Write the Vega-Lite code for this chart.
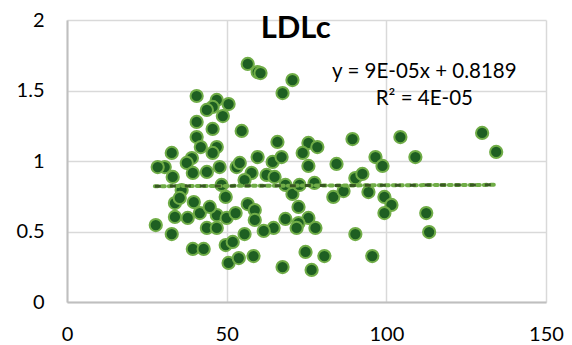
{
  "$schema": "https://vega.github.io/schema/vega-lite/v6.json",
  "width": 479,
  "height": 282,
  "autosize": {"type": "none"},
  "padding": {"left": 67, "top": 20, "right": 26, "bottom": 43},
  "background": "white",
  "config": {
    "view": {"stroke": null},
    "font": "Lato"
  },
  "datasets": {
    "points": [
      {"x": 56.6, "y": 1.688}, {"x": 59.7, "y": 1.631}, {"x": 60.6, "y": 1.624}, {"x": 70.6, "y": 1.574},
      {"x": 67.5, "y": 1.482}, {"x": 40.6, "y": 1.461}, {"x": 46.9, "y": 1.433}, {"x": 50.6, "y": 1.404},
      {"x": 45.6, "y": 1.383}, {"x": 43.8, "y": 1.362}, {"x": 48.8, "y": 1.319}, {"x": 40.6, "y": 1.277},
      {"x": 45.6, "y": 1.227}, {"x": 54.7, "y": 1.213}, {"x": 40.6, "y": 1.170}, {"x": 41.9, "y": 1.099},
      {"x": 46.9, "y": 1.099}, {"x": 45.6, "y": 1.057}, {"x": 32.8, "y": 1.057}, {"x": 39.1, "y": 1.021},
      {"x": 37.5, "y": 0.986}, {"x": 30.6, "y": 0.957}, {"x": 28.4, "y": 0.957}, {"x": 59.7, "y": 1.028},
      {"x": 64.4, "y": 0.993}, {"x": 47.8, "y": 0.957}, {"x": 53.1, "y": 0.957}, {"x": 54.1, "y": 0.986},
      {"x": 65.9, "y": 1.135}, {"x": 75.6, "y": 1.128}, {"x": 78.4, "y": 1.099}, {"x": 73.8, "y": 1.057},
      {"x": 89.4, "y": 1.156}, {"x": 104.4, "y": 1.170}, {"x": 67.2, "y": 1.028}, {"x": 75.6, "y": 0.965},
      {"x": 84.4, "y": 0.979}, {"x": 96.6, "y": 1.028}, {"x": 98.8, "y": 0.965}, {"x": 109.1, "y": 1.028},
      {"x": 130.0, "y": 1.199}, {"x": 134.4, "y": 1.064}, {"x": 33.1, "y": 0.887}, {"x": 39.4, "y": 0.915},
      {"x": 43.8, "y": 0.922}, {"x": 57.8, "y": 0.915}, {"x": 62.5, "y": 0.901}, {"x": 65.0, "y": 0.887},
      {"x": 68.4, "y": 0.830}, {"x": 70.6, "y": 0.766}, {"x": 72.8, "y": 0.830}, {"x": 77.5, "y": 0.844},
      {"x": 83.4, "y": 0.745}, {"x": 86.6, "y": 0.787}, {"x": 90.3, "y": 0.879}, {"x": 92.5, "y": 0.908},
      {"x": 94.4, "y": 0.780}, {"x": 99.4, "y": 0.745}, {"x": 101.6, "y": 0.688}, {"x": 99.4, "y": 0.631},
      {"x": 112.5, "y": 0.631}, {"x": 113.4, "y": 0.496}, {"x": 72.5, "y": 0.674}, {"x": 68.4, "y": 0.589},
      {"x": 75.6, "y": 0.596}, {"x": 72.5, "y": 0.560}, {"x": 71.9, "y": 0.525}, {"x": 77.8, "y": 0.525},
      {"x": 64.7, "y": 0.525}, {"x": 90.3, "y": 0.482}, {"x": 74.7, "y": 0.355}, {"x": 80.6, "y": 0.326},
      {"x": 95.6, "y": 0.326}, {"x": 67.5, "y": 0.248}, {"x": 76.6, "y": 0.227}, {"x": 27.8, "y": 0.546},
      {"x": 32.8, "y": 0.482}, {"x": 39.4, "y": 0.376}, {"x": 42.8, "y": 0.376}, {"x": 49.7, "y": 0.404},
      {"x": 51.9, "y": 0.426}, {"x": 55.6, "y": 0.482}, {"x": 61.6, "y": 0.504}, {"x": 50.6, "y": 0.277},
      {"x": 53.8, "y": 0.312}, {"x": 58.4, "y": 0.326}, {"x": 43.8, "y": 0.525}, {"x": 46.9, "y": 0.525},
      {"x": 33.8, "y": 0.603}, {"x": 37.8, "y": 0.596}, {"x": 41.6, "y": 0.631}, {"x": 46.9, "y": 0.617},
      {"x": 50.0, "y": 0.596}, {"x": 52.8, "y": 0.631}, {"x": 33.8, "y": 0.702}, {"x": 39.7, "y": 0.709},
      {"x": 44.7, "y": 0.674}, {"x": 56.6, "y": 0.695}, {"x": 58.8, "y": 0.652}, {"x": 58.8, "y": 0.582},
      {"x": 35.9, "y": 0.794}, {"x": 35.3, "y": 0.738}, {"x": 49.7, "y": 0.745}, {"x": 48.4, "y": 0.830},
      {"x": 55.6, "y": 0.865}
    ],
    "trend": [
      {"x": 27.5, "y": 0.8214},
      {"x": 134.7, "y": 0.8310}
    ],
    "labels": [
      {"x": 111.9, "y": 1.631, "text": "y = 9E-05x + 0.8189"},
      {"x": 111.9, "y": 1.44, "text": "R² = 4E-05"}
    ],
    "title": [
      {"x": 71.6, "y": 1.872, "text": "LDLc"}
    ]
  },
  "layer": [
    {
      "data": {"name": "points"},
      "mark": {"type": "point", "shape": "circle", "filled": true, "size": 150, "fill": "#1e5f22", "stroke": "#70ad47", "strokeWidth": 2, "opacity": 1, "fillOpacity": 1, "strokeOpacity": 1},
      "encoding": {
        "x": {
          "field": "x", "type": "quantitative",
          "scale": {"domain": [0, 150], "nice": false, "zero": true},
          "axis": {
            "values": [0, 50, 100, 150], "title": null, "ticks": false,
            "labelFont": "Lato", "labelFontSize": 20, "labelColor": "#000000",
            "labelPadding": 22, "domainColor": "#bfbfbf", "domainWidth": 2,
            "gridColor": "#d9d9d9", "gridWidth": 1.5, "labelFlush": false
          }
        },
        "y": {
          "field": "y", "type": "quantitative",
          "scale": {"domain": [0, 2], "nice": false},
          "axis": {
            "values": [0, 0.5, 1, 1.5, 2], "title": null, "ticks": false,
            "labelFont": "Lato", "labelFontSize": 20, "labelColor": "#000000",
            "labelPadding": 23, "domainColor": "#bfbfbf", "domainWidth": 2,
            "gridColor": "#d9d9d9", "gridWidth": 1.5, "labelFlush": false,
            "labelExpr": "datum.value == 0 ? '0' : datum.value == 1 ? '1' : datum.value == 2 ? '2' : datum.label"
          }
        }
      }
    },
    {
      "data": {"name": "trend"},
      "mark": {"type": "line", "color": "#70ad47", "strokeWidth": 4, "strokeDash": [3, 4], "strokeCap": "round"},
      "encoding": {
        "x": {"field": "x", "type": "quantitative"},
        "y": {"field": "y", "type": "quantitative"}
      }
    },
    {
      "data": {"name": "trend"},
      "mark": {"type": "line", "color": "#385723", "strokeWidth": 3, "strokeDash": [6, 9]},
      "encoding": {
        "x": {"field": "x", "type": "quantitative"},
        "y": {"field": "y", "type": "quantitative"}
      }
    },
    {
      "data": {"name": "labels"},
      "mark": {"type": "text", "font": "Lato", "fontSize": 20.5, "color": "#000000", "align": "center", "baseline": "middle"},
      "encoding": {
        "x": {"field": "x", "type": "quantitative"},
        "y": {"field": "y", "type": "quantitative"},
        "text": {"field": "text"}
      }
    },
    {
      "data": {"name": "title"},
      "mark": {"type": "text", "font": "Lato", "fontSize": 31, "fontWeight": "bold", "color": "#000000", "align": "center", "baseline": "alphabetic"},
      "encoding": {
        "x": {"field": "x", "type": "quantitative"},
        "y": {"field": "y", "type": "quantitative"},
        "text": {"field": "text"}
      }
    }
  ]
}
